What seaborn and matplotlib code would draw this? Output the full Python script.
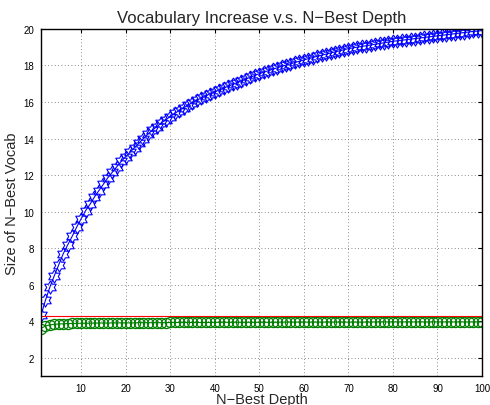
import numpy as np
import pandas as pd
import matplotlib
matplotlib.use("Agg")
import matplotlib.pyplot as plt
import seaborn as sns

depth = list(range(1, 101))

vocab_nbest = [
    4.32, 5.15, 5.87, 6.50, 7.10, 7.70, 8.18, 8.65, 9.15, 9.60,
    10.05, 10.40, 10.80, 11.15, 11.50, 11.85, 12.15, 12.45, 12.75, 13.00,
    13.25, 13.50, 13.75, 14.00, 14.25, 14.45, 14.65, 14.85, 15.02, 15.20,
    15.37, 15.53, 15.68, 15.83, 15.97, 16.10, 16.22, 16.34, 16.45, 16.55,
    16.66, 16.76, 16.86, 16.96, 17.06, 17.16, 17.26, 17.35, 17.45, 17.55,
    17.63, 17.71, 17.79, 17.87, 17.95, 18.02, 18.09, 18.16, 18.23, 18.30,
    18.37, 18.43, 18.50, 18.56, 18.62, 18.68, 18.74, 18.80, 18.86, 18.92,
    18.96, 19.00, 19.04, 19.08, 19.12, 19.16, 19.20, 19.24, 19.28, 19.32,
    19.35, 19.38, 19.41, 19.44, 19.47, 19.50, 19.53, 19.56, 19.59, 19.62,
    19.65, 19.68, 19.71, 19.74, 19.77, 19.80, 19.83, 19.86, 19.88, 19.91,
]

vocab_other = [
    3.60, 3.74, 3.80, 3.83, 3.85, 3.86, 3.87, 3.88, 3.88, 3.89,
    3.89, 3.89, 3.90, 3.90, 3.90, 3.90, 3.91, 3.91, 3.91, 3.91,
    3.91, 3.91, 3.92, 3.92, 3.92, 3.92, 3.92, 3.92, 3.92, 3.93,
    3.93, 3.93, 3.93, 3.93, 3.93, 3.93, 3.93, 3.93, 3.93, 3.94,
    3.94, 3.94, 3.94, 3.94, 3.94, 3.94, 3.94, 3.94, 3.94, 3.94,
    3.94, 3.94, 3.94, 3.94, 3.95, 3.95, 3.95, 3.95, 3.95, 3.95,
    3.95, 3.95, 3.95, 3.95, 3.95, 3.95, 3.95, 3.95, 3.95, 3.95,
    3.95, 3.95, 3.95, 3.95, 3.95, 3.96, 3.96, 3.96, 3.96, 3.96,
    3.96, 3.96, 3.96, 3.96, 3.96, 3.96, 3.96, 3.96, 3.96, 3.96,
    3.96, 3.96, 3.96, 3.96, 3.96, 3.96, 3.96, 3.96, 3.96, 3.96,
]

baseline_x = [1, 100]
baseline_y = [4.29, 4.29]

xticks = [10, 20, 30, 40, 50, 60, 70, 80, 90, 100]
yticks = [2, 4, 6, 8, 10, 12, 14, 16, 18, 20]

sns.set_style("white")
plt.rcParams['font.family'] = ['Liberation Sans', 'DejaVu Sans']

fig = plt.figure(figsize=(4.9, 4.06), dpi=100)
ax = fig.add_axes([0.0837, 0.0714, 0.9, 0.855])

# hexagram marker
ang_out = np.deg2rad(90 + 60 * np.arange(6))
ang_in = np.deg2rad(120 + 60 * np.arange(6))
verts = []
for ao, ai in zip(ang_out, ang_in):
    verts.append((np.cos(ao), np.sin(ao)))
    verts.append((np.cos(ai) / np.sqrt(3), np.sin(ai) / np.sqrt(3)))
verts.append(verts[0])

df = pd.DataFrame({"depth": depth, "nbest": vocab_nbest, "other": vocab_other})

sns.lineplot(data=df, x="depth", y="other", ax=ax, color=(0, 0.5, 0), lw=0.8,
             marker="o", markersize=7.3, markerfacecolor="none",
             markeredgecolor=(0, 0.5, 0), markeredgewidth=0.9, zorder=2)
sns.lineplot(data=df, x="depth", y="nbest", ax=ax, color="blue", lw=0.8,
             marker=verts, markersize=9.5, markerfacecolor="none",
             markeredgecolor="blue", markeredgewidth=0.8, zorder=3)
sns.lineplot(x=baseline_x, y=baseline_y, ax=ax, color="red", lw=0.8, zorder=4)

ax.set_xlim(1, 100)
ax.set_ylim(1, 20)
ax.set_xticks(xticks)
ax.set_yticks(yticks)
ax.tick_params(direction="in", length=3, width=0.8, labelsize=7,
               top=True, right=True, colors="black", pad=5)
ax.grid(True, linestyle=(0, (1, 3)), color="#666666", lw=0.6)
for s in ax.spines.values():
    s.set_color("black")
    s.set_linewidth(1.0)
    s.set_zorder(5)

ax.set_title("Vocabulary Increase v.s. N\u2212Best Depth", fontsize=12, pad=5)
ax.set_xlabel("N\u2212Best Depth", fontsize=10.5, labelpad=-1)
ax.set_ylabel("Size of N\u2212Best Vocab", fontsize=10.5, labelpad=3)

fig.savefig("out.png", dpi=100)
